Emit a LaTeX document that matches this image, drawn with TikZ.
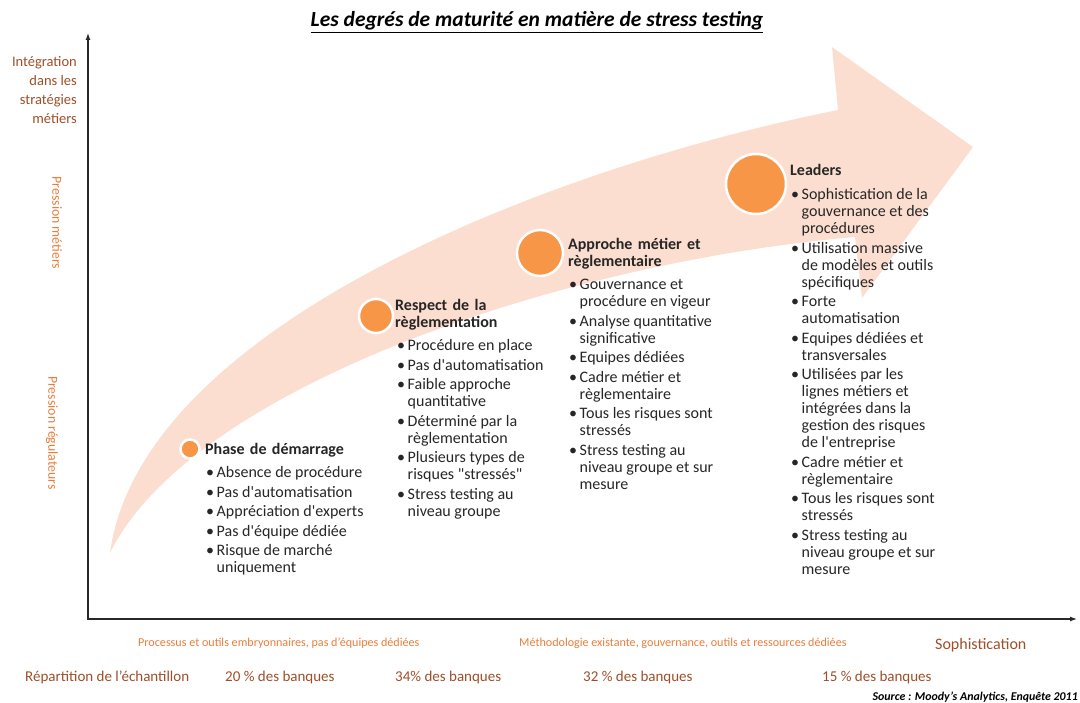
\documentclass[tikz,border=0pt]{standalone}
\usepackage{fontspec}
\setmainfont{Carlito}
\usetikzlibrary{arrows.meta}
\definecolor{peach}{RGB}{252,222,208}
\definecolor{circorange}{RGB}{247,150,70}
\definecolor{brownlbl}{RGB}{158,78,40}
\definecolor{orangelbl}{RGB}{232,125,60}
\definecolor{bodytxt}{RGB}{38,38,38}
\definecolor{axiscol}{RGB}{40,40,40}
\newcommand{\bb}{\makebox[10.5pt][l]{\textbullet}}
\newcommand{\sq}{\textquotesingle}
\tikzset{
  stagedot/.style={circle, fill=circorange, draw=white, line width=2.5pt, inner sep=0pt},
  stagetitle/.style={anchor=base west, inner sep=0pt, text width=200pt, align=left, text=bodytxt,
     font=\fontsize{16}{17}\selectfont\bfseries},
  bullets/.style={anchor=base west, inner sep=0pt, text=bodytxt,
     font=\fontsize{16}{17}\selectfont},
  brown/.style={text=brownlbl, inner sep=0pt},
  orng/.style={text=orangelbl, inner sep=0pt},
  axisline/.style={draw=axiscol, line width=1.2pt}
}
\begin{document}
\begin{tikzpicture}[x=1pt,y=-1pt]
\useasboundingbox (0,0) rectangle (1080,703);
% big curved arrow
\fill[peach] (110,553) .. controls (140,330) and (538,170) .. (838,110)
   -- (832,47) -- (973,147) -- (862,298) -- (855,237)
   .. controls (555,263) and (190,390) .. cycle;
% title
\node[anchor=base, inner sep=0pt, text=black, font=\fontsize{21.5}{24}\selectfont\bfseries\itshape] (title) at (537,27)
  {\underline{Les degrés de maturité en matière de stress testing}};
% axes
\coordinate (O) at (88,619);
\coordinate (Ytop) at (88,33);
\coordinate (Xend) at (1077,619);
\draw[axisline, {Latex[length=7pt,width=5pt]}-{Latex[length=7pt,width=5pt]}] (Ytop) -- (O) -- (Xend);
% left labels
\node[brown, anchor=base east, align=right, font=\fontsize{14.5}{19.3}\selectfont] (ylbl) at (77,124)
  {Intégration\\dans les\\stratégies\\métiers};
\node[orng, rotate=-90, font=\fontsize{13.8}{16}\selectfont] (pmet) at (57,223) {Pression métiers};
\node[orng, rotate=-90, font=\fontsize{13.8}{16}\selectfont] (preg) at (52,433) {Pression régulateurs};
% bottom labels
\node[orng, anchor=base west, font=\fontsize{12.1}{14}\selectfont] (proc) at (138,646)
  {Processus et outils embryonnaires, pas d’équipes dédiées};
\node[orng, anchor=base west, font=\fontsize{12.1}{14}\selectfont] (meth) at (519,646)
  {Méthodologie existante, gouvernance, outils et ressources dédiées};
\node[brown, anchor=base west, font=\fontsize{16}{18}\selectfont] (soph) at (935,649) {Sophistication};
\node[brown, anchor=base west, font=\fontsize{15}{17}\selectfont] (rep) at (25,681) {Répartition de l’échantillon};
\node[brown, anchor=base west, font=\fontsize{15}{17}\selectfont] (p20) at (225,681) {20 \% des banques};
\node[brown, anchor=base west, font=\fontsize{15}{17}\selectfont] (p34) at (395,681) {34\% des banques};
\node[brown, anchor=base west, font=\fontsize{15}{17}\selectfont] (p32) at (583,681) {32 \% des banques};
\node[brown, anchor=base west, font=\fontsize{15}{17}\selectfont] (p15) at (822,681) {15 \% des banques};
\node[anchor=base east, inner sep=0pt, text=black, font=\fontsize{11.9}{13}\selectfont\bfseries\itshape] (src) at (1078,700)
  {Source : Moody’s Analytics, Enquête 2011};
% stage dots
\node[stagedot, minimum size=19pt] (c1) at (190,449) {};
\node[stagedot, minimum size=34pt] (c2) at (376,316) {};
\node[stagedot, minimum size=46pt] (c3) at (540,253) {};
\node[stagedot, minimum size=60pt] (c4) at (756,184) {};
% stage 1
\node[stagetitle] (s1t) at (205,455) {Phase de démarrage};
\node[bullets] (s1b) at (206,478) {\begin{tabular}[t]{@{}l@{}l@{}}
\bb & Absence de procédure\\[2.5pt]
\bb & Pas d\sq automatisation\\[2.5pt]
\bb & Appréciation d\sq experts\\[2.5pt]
\bb & Pas d\sq équipe dédiée\\[2.5pt]
\bb & Risque de marché\\
    & uniquement
\end{tabular}};
% stage 2
\node[stagetitle] (s2t) at (395,311) {Respect de la\\règlementation};
\node[bullets] (s2b) at (397,351) {\begin{tabular}[t]{@{}l@{}l@{}}
\bb & Procédure en place\\[2.5pt]
\bb & Pas d\sq automatisation\\[2.5pt]
\bb & Faible approche\\
    & quantitative\\[2.5pt]
\bb & Déterminé par la\\
    & règlementation\\[2.5pt]
\bb & Plusieurs types de\\
    & risques \textquotedbl stressés\textquotedbl\\[2.5pt]
\bb & Stress testing au\\
    & niveau groupe
\end{tabular}};
% stage 3
\node[stagetitle] (s3t) at (568,250) {Approche métier et\\règlementaire};
\node[bullets] (s3b) at (569,290) {\begin{tabular}[t]{@{}l@{}l@{}}
\bb & Gouvernance et\\
    & procédure en vigeur\\[2.5pt]
\bb & Analyse quantitative\\
    & significative\\[2.5pt]
\bb & Equipes dédiées\\[2.5pt]
\bb & Cadre métier et\\
    & règlementaire\\[2.5pt]
\bb & Tous les risques sont\\
    & stressés\\[2.5pt]
\bb & Stress testing au\\
    & niveau groupe et sur\\
    & mesure
\end{tabular}};
% stage 4
\node[stagetitle] (s4t) at (790,176) {Leaders};
\node[bullets] (s4b) at (791,200) {\begin{tabular}[t]{@{}l@{}l@{}}
\bb & Sophistication de la\\
    & gouvernance et des\\
    & procédures\\[2.5pt]
\bb & Utilisation massive\\
    & de modèles et outils\\
    & spécifiques\\[2.5pt]
\bb & Forte\\
    & automatisation\\[2.5pt]
\bb & Equipes dédiées et\\
    & transversales\\[2.5pt]
\bb & Utilisées par les\\
    & lignes métiers et\\
    & intégrées dans la\\
    & gestion des risques\\
    & de l\sq entreprise\\[2.5pt]
\bb & Cadre métier et\\
    & règlementaire\\[2.5pt]
\bb & Tous les risques sont\\
    & stressés\\[2.5pt]
\bb & Stress testing au\\
    & niveau groupe et sur\\
    & mesure
\end{tabular}};
\end{tikzpicture}
\end{document}
